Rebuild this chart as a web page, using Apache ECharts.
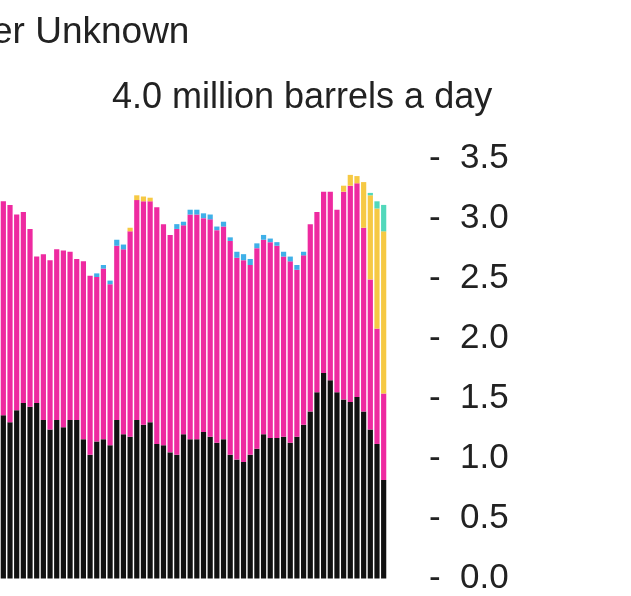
<!DOCTYPE html><html><head><meta charset="utf-8"><script src="https://cdn.jsdelivr.net/npm/echarts@6/dist/echarts.min.js"></script>
<style>body{margin:0;background:#fff}#c{width:631px;height:596px}</style></head><body><div id="c"></div><script>
const black=[1.36,1.30,1.40,1.46,1.43,1.46,1.32,1.24,1.32,1.26,1.32,1.32,1.16,1.03,1.14,1.16,1.11,1.32,1.20,1.18,1.32,1.28,1.30,1.12,1.11,1.05,1.03,1.20,1.16,
1.16,1.22,1.18,1.13,1.16,1.03,0.99,0.97,1.03,1.08,1.20,1.17,1.17,1.18,1.13,1.18,1.28,1.39,1.55,1.71,1.65,1.55,1.49,1.47,1.51,1.39,1.24,1.12,0.82];
const total=[3.14,3.11,3.03,3.05,2.91,2.68,2.70,2.65,2.74,2.73,2.72,2.66,2.64,2.52,2.54,2.61,2.48,2.82,2.78,2.92,3.19,3.18,3.17,3.09,2.95,2.86,2.95,2.97,3.07,
3.07,3.04,3.03,2.93,2.97,2.84,2.72,2.70,2.66,2.79,2.86,2.83,2.80,2.72,2.68,2.61,2.72,2.95,3.05,3.22,3.22,3.07,3.27,3.36,3.35,3.30,3.21,3.14,3.11];
const blue=[0,0,0,0,0,0,0,0,0,0,0,0,0,0,0.03,0.03,0.03,0.05,0.04,0,0,0,0,0,0,0,0.04,0.03,0.04,
0.04,0.04,0.04,0.03,0.04,0.03,0.05,0.05,0.05,0.04,0.04,0.03,0.03,0.04,0.04,0.04,0.03,0,0,0,0,0,0,0,0,0,0,0,0];
const yellow=[0,0,0,0,0,0,0,0,0,0,0,0,0,0,0,0,0,0,0,0.03,0.04,0.04,0.03,0,0,0,0,0,0,
0,0,0,0,0,0,0,0,0,0,0,0,0,0,0,0,0,0,0,0,0,0,0.05,0.09,0.06,0.38,0.70,1.00,1.35];
const teal=[0,0,0,0,0,0,0,0,0,0,0,0,0,0,0,0,0,0,0,0,0,0,0,0,0,0,0,0,0,
0,0,0,0,0,0,0,0,0,0,0,0,0,0,0,0,0,0,0,0,0,0,0,0,0,0,0.02,0.06,0.22];
const pink=total.map((t,i)=>+(t-black[i]-blue[i]-yellow[i]-teal[i]).toFixed(2));
const cats=total.map((_,i)=>String(i));
const ticks=[0,0.5,1.0,1.5,2.0,2.5,3.0,3.5];
const mk=(name,data,color)=>({name,type:'bar',stack:'a',data,itemStyle:{color},barCategoryGap:'22%',silent:true});
const ch=echarts.init(document.getElementById('c'));
ch.setOption({animation:false,
grid:{left:-1,top:98,width:388,bottom:-16},
xAxis:{type:'category',data:cats,show:false},
yAxis:{type:'value',position:'right',min:0,max:4,interval:0.5,splitLine:{show:false},axisLine:{show:false},axisTick:{show:false},
 axisLabel:{margin:42,fontSize:35,color:'#222',fontFamily:'Liberation Sans',formatter:v=>v>=4?'':'-  '+v.toFixed(1)}},
graphic:[{type:'text',left:-8,top:14,style:{text:'er Unknown',fontSize:37,fill:'#222',fontFamily:'Liberation Sans'}},
{type:'text',left:112,top:80,style:{text:'4.0 million barrels a day',fontSize:36,fill:'#222',fontFamily:'Liberation Sans'}}],
series:[mk('black',black,'#111'),mk('pink',pink,'#ee2aa0'),mk('blue',blue,'#3fb0e8'),mk('yellow',yellow,'#f6c944'),mk('teal',teal,'#52d8bb')]});
</script></body></html>
